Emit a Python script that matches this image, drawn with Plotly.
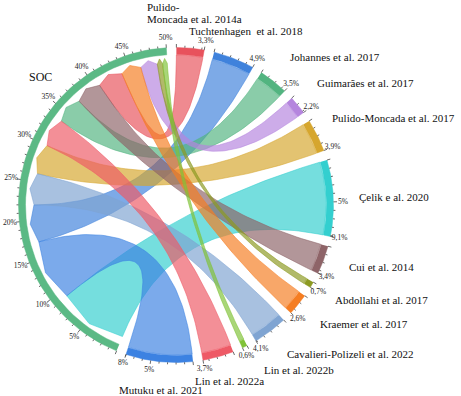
import numpy as np
import plotly.graph_objects as go

# ---------------- data ----------------
soc_name = "SOC"
soc_total = 50.0
studies = ["Pulido-Moncada et al. 2014a", "Tuchtenhagen  et al. 2018", "Johannes et al. 2017",
           "Guimarães et al. 2017", "Pulido-Moncada et al. 2017", "Çelik e al. 2020",
           "Cui et al. 2014", "Abdollahi et al. 2017", "Kraemer et al. 2017",
           "Cavalieri-Polizeli et al. 2022", "Lin et al. 2022b", "Lin et al. 2022a",
           "Mutuku et al. 2021"]
values = [3.3, 4.9, 3.5, 2.2, 3.9, 9.1, 3.4, 0.7, 2.6, 4.1, 0.6, 3.7, 8.0]
soc_tick_values = [0, 5, 10, 15, 20, 25, 30, 35, 40, 45, 50]

# ---------------- style ----------------
soc_color = "#5BB985"
band_colors = ["#E8525C", "#3F82DC", "#52B480", "#B585DE", "#D6A62E", "#33CFCF",
               "#8E6468", "#8C9A22", "#F57D22", "#7FA4D2", "#80C238", "#EE5A66", "#3C82E2"]
ribbon_alpha = 0.68

label_pos = {  # (left x, centre y) in pixels
    "Pulido-Moncada et al. 2014a": [(145, 6.5, "Pulido-"), (145, 19, "Moncada et al. 2014a")],
    "Tuchtenhagen  et al. 2018": [(187, 31, None)],
    "Johannes et al. 2017": [(288, 57, None)],
    "Guimarães et al. 2017": [(315, 83, None)],
    "Pulido-Moncada et al. 2017": [(330, 118, None)],
    "Çelik e al. 2020": [(357, 197, None)],
    "Cui et al. 2014": [(347, 267, None)],
    "Abdollahi et al. 2017": [(333, 300, None)],
    "Kraemer et al. 2017": [(318, 324, None)],
    "Cavalieri-Polizeli et al. 2022": [(285, 354, None)],
    "Lin et al. 2022b": [(262, 370, None)],
    "Lin et al. 2022a": [(193, 381, None)],
    "Mutuku et al. 2021": [(117, 390, None)],
}
soc_label_pos = (27, 77)

W, H = 461, 396
CX, CY = 176, 205
R_OUT, R_IN = 157.5, 150.5
R_LINK = 150.0
R_TIP, R_CORNER = 147.0, 142.0
R_TXT = 167.0
START = 247.84
GAP = 3.67
FONT = "Liberation Serif, Times New Roman, serif"

total = soc_total + sum(values)
n_sectors = 1 + len(values)
K = (360.0 - n_sectors * GAP) / total


def hex_rgba(h, a):
    h = h.lstrip("#")
    r, g, b = int(h[0:2], 16), int(h[2:4], 16), int(h[4:6], 16)
    return f"rgba({r},{g},{b},{a})"


def pt(a, r):
    t = np.radians(a)
    return CX + r * np.cos(t), CY - r * np.sin(t)


def arc(a1, a2, r, n=60):
    ang = np.linspace(a1, a2, n)
    t = np.radians(ang)
    return list(CX + r * np.cos(t)), list(CY - r * np.sin(t))


def bez(p0, p2, n=60):
    t = np.linspace(0, 1, n)
    c = (CX, CY)
    x = (1 - t) ** 2 * p0[0] + 2 * (1 - t) * t * c[0] + t ** 2 * p2[0]
    y = (1 - t) ** 2 * p0[1] + 2 * (1 - t) * t * c[1] + t ** 2 * p2[1]
    return list(x), list(y)


fig = go.Figure()

soc_start = START
soc_end = START - K * soc_total
sec = []
a = soc_end - GAP
for v in values:
    sec.append((a, a - K * v))
    a = a - K * v - GAP

order = sorted(range(len(values)), key=lambda i: -values[i])
soc_pos = {}
cum = 0.0
for i in order:
    soc_pos[i] = (START - K * cum, START - K * (cum + values[i]))
    cum += values[i]

for i in range(len(values)):
    a1, a2 = sec[i]
    b1, b2 = soc_pos[i]
    xs, ys = arc(a1, a2, R_LINK)
    bx, by = bez(pt(a2, R_LINK), pt(b1, R_CORNER))
    xs += bx; ys += by
    for aa, rr in [(b1, R_CORNER), ((b1 + b2) / 2, R_TIP), (b2, R_CORNER)]:
        p = pt(aa, rr)
        xs.append(p[0]); ys.append(p[1])
    bx, by = bez(pt(b2, R_CORNER), pt(a1, R_LINK))
    xs += bx; ys += by
    fig.add_trace(go.Scatter(x=xs, y=ys, mode="lines", fill="toself",
                             fillcolor=hex_rgba(band_colors[i], ribbon_alpha),
                             line=dict(color=hex_rgba(band_colors[i], 0.9), width=0.6),
                             hoverinfo="skip", showlegend=False))


def band(a1, a2, color):
    xo, yo = arc(a1, a2, R_OUT)
    xi, yi = arc(a2, a1, R_IN)
    fig.add_trace(go.Scatter(x=xo + xi, y=yo + yi, mode="lines", fill="toself",
                             fillcolor=color, line=dict(color=color, width=0.5),
                             hoverinfo="skip", showlegend=False))


band(soc_start, soc_end, soc_color)
for i in range(len(values)):
    band(sec[i][0], sec[i][1], band_colors[i])

tx, ty = [], []
lab_x, lab_y, lab_t = [], [], []


def add_tick(ang, length):
    p0 = pt(ang, R_OUT)
    p1 = pt(ang, R_OUT + length)
    tx.extend([p0[0], p1[0], None]); ty.extend([p0[1], p1[1], None])


def fmt(v):
    return f"{v:g}".replace(".", ",") + "%"


for m in range(0, int(soc_total) + 1):
    add_tick(soc_start - K * m, 3.5 if m in soc_tick_values else 2)
for m in soc_tick_values:
    if m == 0:
        continue
    p = pt(soc_start - K * m, R_TXT)
    lab_x.append(p[0]); lab_y.append(p[1]); lab_t.append(fmt(m))

for i, v in enumerate(values):
    s0 = sec[i][0]
    for m in range(0, int(np.floor(v)) + 1):
        add_tick(s0 - K * m, 3.5 if m % 5 == 0 else 2)
    add_tick(s0 - K * v, 3.5)
    marks = [5] if v > 5.5 else []
    for m in marks + [v]:
        p = pt(s0 - K * m, R_TXT)
        lab_x.append(p[0]); lab_y.append(p[1]); lab_t.append(fmt(m))

fig.add_trace(go.Scatter(x=tx, y=ty, mode="lines", line=dict(color="#444", width=0.8),
                         hoverinfo="skip", showlegend=False))
fig.add_trace(go.Scatter(x=lab_x, y=lab_y, mode="text", text=lab_t, cliponaxis=False,
                         textfont=dict(family=FONT, size=7.5, color="#222"),
                         hoverinfo="skip", showlegend=False))

anns = []
for name in studies:
    for (x, y, t) in label_pos[name]:
        anns.append(dict(x=x, y=y, text=t if t else name.replace("  ", "&nbsp; "),
                         xanchor="left", yanchor="middle", showarrow=False,
                         font=dict(family=FONT, size=11, color="#111")))
anns.append(dict(x=soc_label_pos[0], y=soc_label_pos[1], text=soc_name, xanchor="left",
                 yanchor="middle", showarrow=False,
                 font=dict(family=FONT, size=12, color="#111")))

fig.update_layout(width=W, height=H, margin=dict(l=0, r=0, t=0, b=0),
                  paper_bgcolor="white", plot_bgcolor="white",
                  font=dict(family=FONT),
                  xaxis=dict(range=[0, W], visible=False, fixedrange=True),
                  yaxis=dict(range=[H, 0], visible=False, fixedrange=True),
                  annotations=anns, showlegend=False)
fig.write_html("out.html", config={"displayModeBar": False},
               post_script="document.body.style.margin='0';document.body.style.padding='0';")
